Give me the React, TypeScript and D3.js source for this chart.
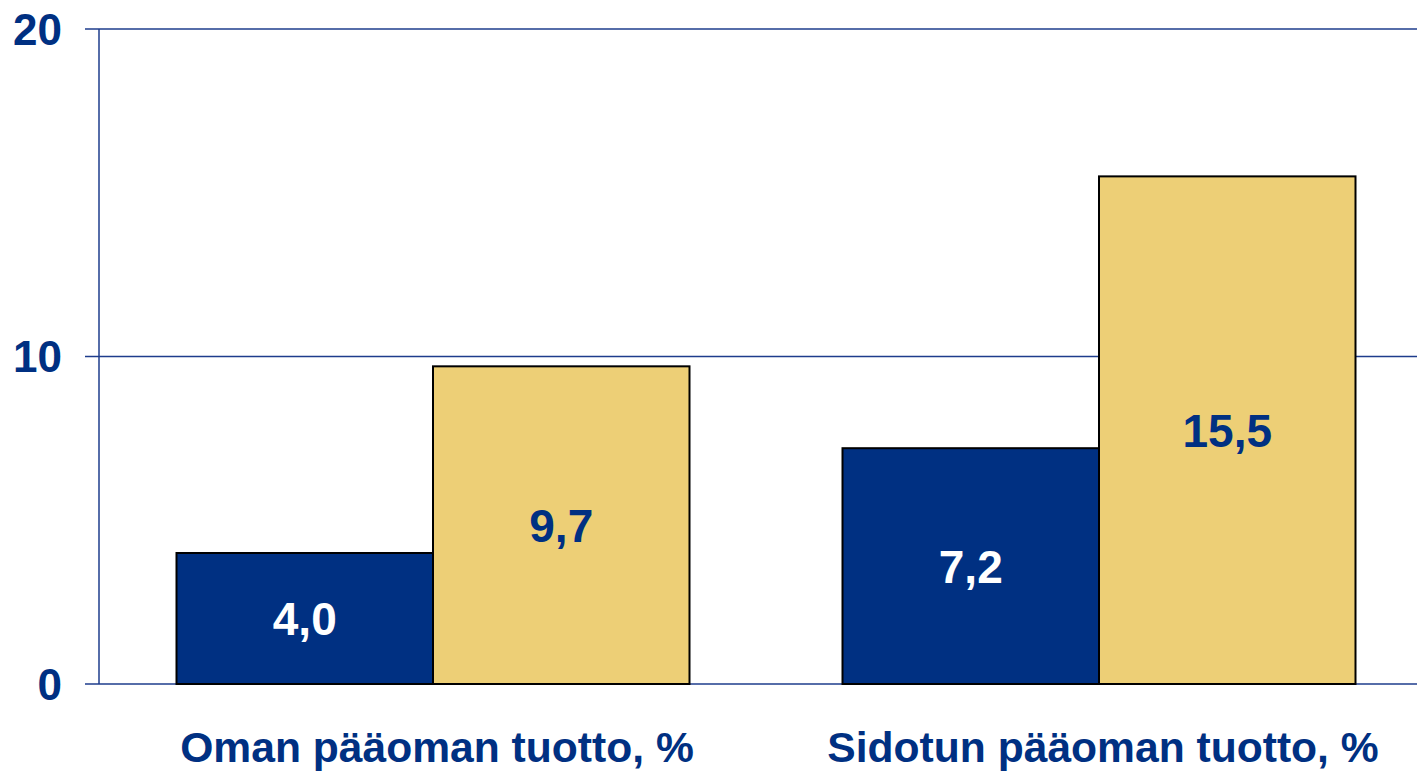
import React from "react";
import * as d3 from "d3";

const categories = ["Oman pääoman tuotto, %", "Sidotun pääoman tuotto, %"];
const seriesNames = ["A", "B"];
const seriesA = [4.0, 7.2];
const seriesB = [9.7, 15.5];
const valueLabelsA = ["4,0", "7,2"];
const valueLabelsB = ["9,7", "15,5"];
const yTicks = [0, 10, 20];

const W = 1417;
const H = 772;
const FONT = "'Liberation Sans', Arial, Helvetica, sans-serif";
const BLUE = "#003082";
const YELLOW = "#EDCF76";
const AXIS = "#1E3C8C";

export default function App() {
  const y = d3.scaleLinear().domain([0, 20]).range([684, 29]);
  const x0 = d3.scaleBand<string>().domain(categories).range([100, 1432]).padding(0);
  const inner = (x0.bandwidth() - 513) / 2;
  const x1 = d3.scaleBand<string>().domain(seriesNames).range([inner, inner + 513]).padding(0);
  const series = [
    { name: "A", values: seriesA, labels: valueLabelsA, fill: BLUE, text: "#ffffff" },
    { name: "B", values: seriesB, labels: valueLabelsB, fill: YELLOW, text: BLUE },
  ];
  const axisX = 99;
  return (
    <svg width={W} height={H} style={{ position: "absolute", left: 0, top: 0, background: "#fff" }} fontFamily={FONT}>
      {yTicks.map((t) => (
        <g key={t}>
          <line x1={85} x2={W} y1={y(t)} y2={y(t)} stroke={AXIS} strokeWidth={1.5} />
          <text x={62} y={y(t)} dy="0.36em" textAnchor="end" fontSize={44} fontWeight="bold" fill={BLUE}>
            {t}
          </text>
        </g>
      ))}
      <line x1={axisX} x2={axisX} y1={y(20)} y2={y(0)} stroke={AXIS} strokeWidth={1.5} />
      {categories.map((c, i) => (
        <g key={c} transform={`translate(${x0(c)},0)`}>
          {series.map((s) => {
            const bx = x1(s.name)!;
            const bw = x1.bandwidth();
            const top = y(s.values[i]);
            return (
              <g key={s.name}>
                <rect x={bx} y={top} width={bw} height={y(0) - top} fill={s.fill} stroke="#000" strokeWidth={2} />
                <text x={bx + bw / 2} y={(top + y(0)) / 2} dy="0.36em" textAnchor="middle" fontSize={46} fontWeight="bold" fill={s.text}>
                  {s.labels[i]}
                </text>
              </g>
            );
          })}
          <text x={x0.bandwidth() / 2 + 4} y={762} textAnchor="middle" fontSize={42.6} fontWeight="bold" fill={BLUE}>
            {c}
          </text>
        </g>
      ))}
    </svg>
  );
}
